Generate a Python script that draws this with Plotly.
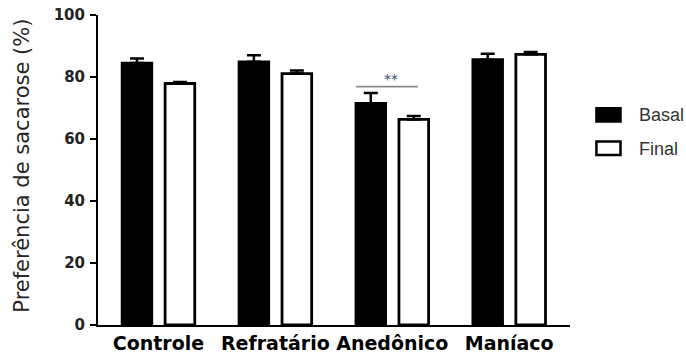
import plotly.graph_objects as go

# Sucrose preference per group, baseline vs final
groups = ["Controle", "Refratário", "Anedônico", "Maníaco"]
basal_mean = [84.5, 84.9, 71.5, 85.6]
basal_sem = [1.5, 2.1, 3.3, 1.9]
final_mean = [77.9, 81.1, 66.3, 87.3]
final_sem = [0.5, 1.0, 1.1, 0.8]
y_ticks = [0, 20, 40, 60, 80, 100]

# Significance bracket (Anedônico basal vs final)
sig_x = [1.69, 2.22]
sig_y = 76.9
sig_label = "**"

series_names = ["Basal", "Final"]

xpos = list(range(len(groups)))

fig = go.Figure()
fig.add_trace(go.Bar(
    x=xpos, y=basal_mean, name=series_names[0],
    marker=dict(color="black", line=dict(color="black", width=2.8)),
    error_y=dict(type="data", array=basal_sem, arrayminus=[0] * len(groups),
                 symmetric=False, color="black", thickness=2.5, width=7),
    showlegend=False,
))
fig.add_trace(go.Bar(
    x=xpos, y=final_mean, name=series_names[1],
    marker=dict(color="white", line=dict(color="black", width=2.8)),
    error_y=dict(type="data", array=final_sem, arrayminus=[0] * len(groups),
                 symmetric=False, color="black", thickness=2.5, width=7),
    showlegend=False,
))

# significance line and stars
fig.add_shape(type="line", xref="x", yref="y", x0=sig_x[0], x1=sig_x[1],
              y0=sig_y, y1=sig_y, line=dict(color="#8a8a8a", width=1.6))
fig.add_annotation(x=(xpos[2] - 0.01), y=sig_y, xref="x", yref="y",
                   text=sig_label, showarrow=False, yanchor="bottom", yshift=-2,
                   font=dict(family="DejaVu Sans", size=14, color="#3a4a6a"))

# legend drawn as swatches + labels to the right of the plot
swatches = [
    dict(y0=0.6995, y1=0.6564, fill="black"),
    dict(y0=0.592, y1=0.548, fill="white"),
]
label_y = [0.678, 0.569]
for sw, name, ly in zip(swatches, series_names, label_y):
    fig.add_shape(type="rect", xref="paper", yref="paper",
                  x0=1.056, x1=1.107, y0=sw["y0"], y1=sw["y1"],
                  fillcolor=sw["fill"], line=dict(color="black", width=2.5))
    fig.add_annotation(x=1.141, y=ly, xref="paper", yref="paper", text=name,
                       showarrow=False, xanchor="left", yanchor="middle",
                       font=dict(family="Liberation Sans", size=18, color="#333333"))

# y-axis title
fig.add_annotation(x=-0.161, y=0.514, xref="paper", yref="paper",
                   text="Preferência de sacarose (%)", textangle=-90,
                   showarrow=False, xanchor="center", yanchor="middle",
                   font=dict(family="DejaVu Sans", size=21, color="#262626"))

fig.update_layout(
    width=686, height=356,
    margin=dict(l=98, r=116, t=15, b=31, autoexpand=False),
    paper_bgcolor="white", plot_bgcolor="white",
    barmode="group", bargap=0.265, bargroupgap=0.31,
    xaxis=dict(
        range=[-0.517, 3.52], tickvals=xpos, ticktext=groups,
        showline=True, linecolor="black", linewidth=2,
        ticks="", showgrid=False, zeroline=False, automargin=False,
        tickfont=dict(family="DejaVu Sans", size=19, color="black", weight="bold"),
    ),
    yaxis=dict(
        range=[0, 100], tickvals=y_ticks,
        showline=True, linecolor="black", linewidth=2,
        ticks="outside", ticklen=6, tickwidth=2, tickcolor="black",
        showgrid=False, zeroline=False, ticklabelstandoff=2, automargin=False,
        tickfont=dict(family="DejaVu Sans", size=15, color="#222222", weight="bold"),
    ),
)

fig.write_html("out.html")
